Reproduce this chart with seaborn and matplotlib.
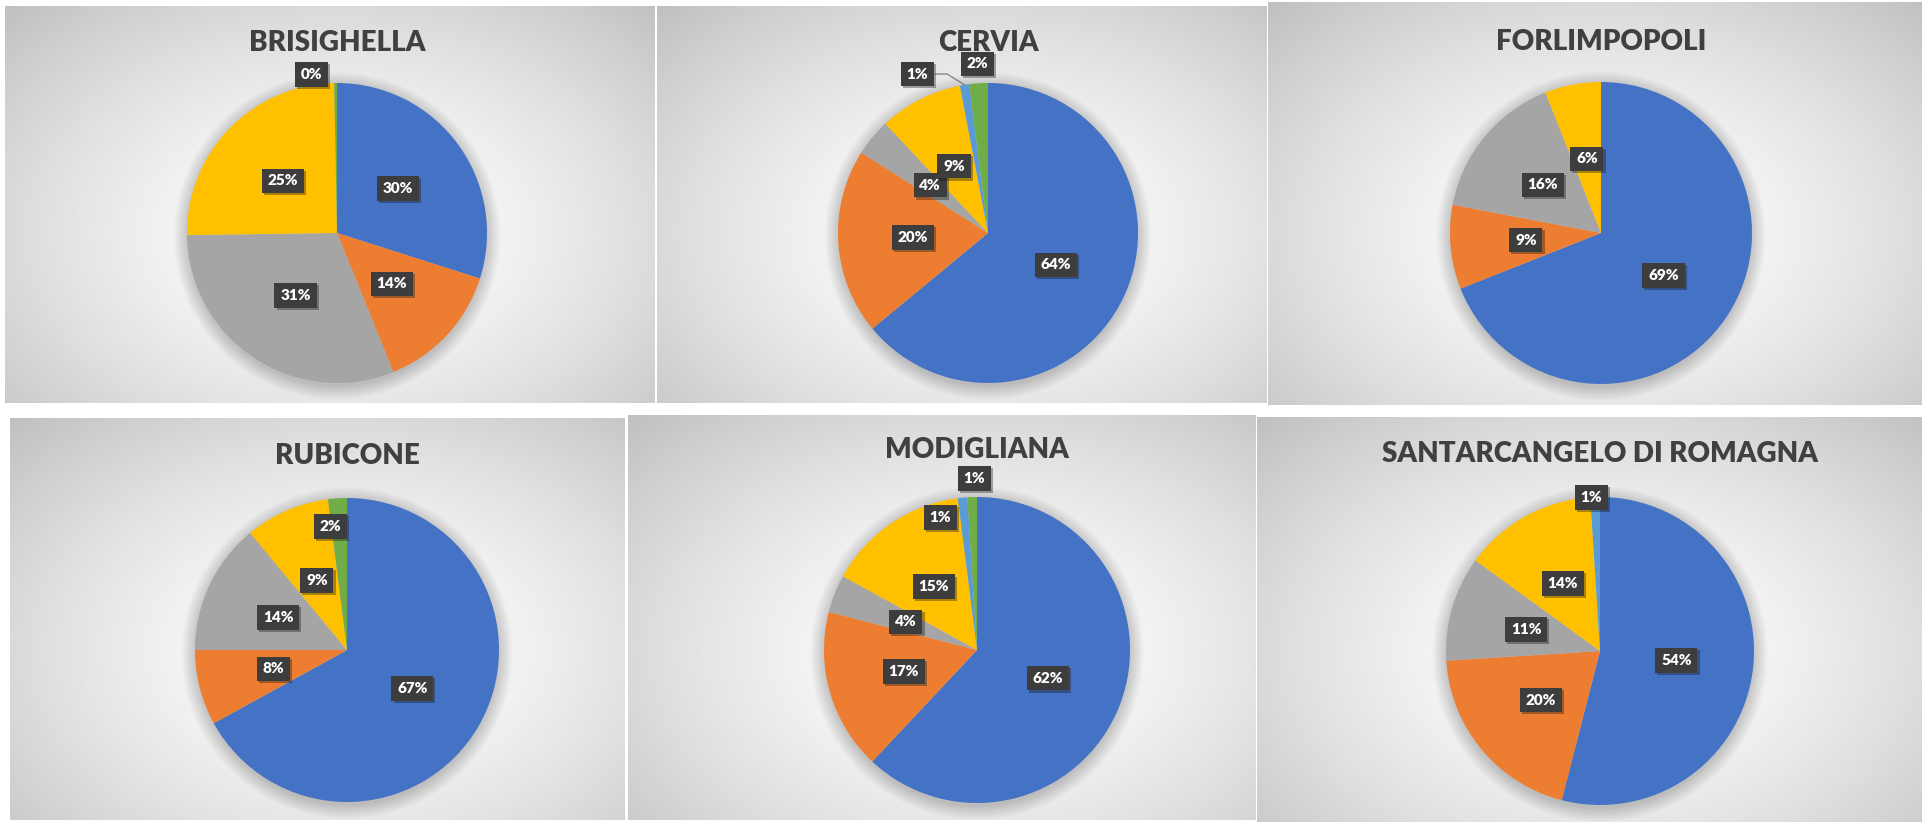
import numpy as np
import matplotlib
matplotlib.use("Agg")
import matplotlib.pyplot as plt
import matplotlib.patheffects as pe
from matplotlib.patches import Circle
import seaborn as sns

# ---- data: share of each category (%) per municipality ----
TITLES = ["BRISIGHELLA", "CERVIA", "FORLIMPOPOLI",
          "RUBICONE", "MODIGLIANA", "SANTARCANGELO DI ROMAGNA"]
brisighella = [30, 14, 31, 25, 0, 0.3]
cervia = [64, 20, 4, 9, 1, 2]
forlimpopoli = [69, 9, 16, 6, 0, 0]
rubicone = [67, 8, 14, 9, 0, 2]
modigliana = [62, 17, 4, 15, 1, 1]
santarcangelo = [54, 20, 11, 14, 1, 0]
SHARES = [brisighella, cervia, forlimpopoli, rubicone, modigliana, santarcangelo]

sns.set_theme(style="white")
plt.rcParams["font.family"] = ["Lato", "DejaVu Sans"]

PALETTE = sns.color_palette(["#4472C4", "#ED7D31", "#A5A5A5",
                             "#FFC000", "#5B9BD5", "#70AD47"])

# ---- layout (pixels on a 1922 x 825 canvas) ----
W, H = 1922, 825
PANELS = [(5, 6, 655, 403), (657, 6, 1267, 403), (1268, 2, 1922, 405),
          (10, 418, 625, 820), (628, 415, 1256, 820), (1257, 417, 1922, 822)]
PIE_CENTERS = [(337, 233), (988, 233), (1601, 233),
               (347, 650), (977, 650), (1600, 651)]
PIE_RADII = [150, 150, 151, 152, 153, 154]
TITLE_Y = [43, 43, 42, 456, 450, 454]
# thin slices: label radius (fraction of pie radius) and angular shift (deg)
SMALL_LABELS = {(0, 5): (1.07, 8.5), (1, 4): (1.16, 15), (1, 5): (1.13, 0),
                (3, 5): (0.82, 4), (4, 4): (0.90, 10), (4, 5): (1.12, -1),
                (5, 4): (1.00, 1.5)}
LEADERS = {(1, 4)}

fig = plt.figure(figsize=(W / 100, H / 100), dpi=100)
fig.patch.set_facecolor("white")


def panel_background(rect, centre):
    l, t, r, b = rect
    ax = fig.add_axes([l / W, 1 - b / H, (r - l) / W, (b - t) / H])
    ny, nx = 240, 360
    ys = np.linspace(t, b, ny)
    xs = np.linspace(l, r, nx)
    xx, yy = np.meshgrid(xs, ys)
    cx, cy = centre
    half_w = max(cx - l, r - cx)
    half_h = max(cy - t, b - cy)
    d = np.sqrt(((xx - cx) / half_w) ** 2 + ((yy - cy) / half_h) ** 2) / np.sqrt(2)
    shade = 1.0 - 0.25 * np.clip(d, 0, 1) ** 1.5
    ax.imshow(shade, cmap="gray", vmin=0, vmax=1, aspect="auto",
              interpolation="bilinear")
    ax.set_axis_off()
    return ax


for i, (title, vals) in enumerate(zip(TITLES, SHARES)):
    cx, cy = PIE_CENTERS[i]
    R = PIE_RADII[i]
    panel_background(PANELS[i], (cx, cy))
    ext = 1.5
    ax = fig.add_axes([(cx - ext * R) / W, 1 - (cy + ext * R) / H,
                       2 * ext * R / W, 2 * ext * R / H])
    ax.set_axis_off()
    ax.patch.set_alpha(0)

    # soft drop shadow around the pie
    for r in np.linspace(1.0, 1.09, 12):
        ax.add_patch(Circle((0.0, -0.02), r, fc="black", ec="none",
                            alpha=0.014, zorder=0))

    idx = [k for k, v in enumerate(vals) if v > 0]
    wedges, _ = ax.pie([vals[k] for k in idx], colors=[PALETTE[k] for k in idx],
                       startangle=90, counterclock=False, radius=1.0,
                       wedgeprops=dict(linewidth=0))
    ax.set_xlim(-ext, ext)
    ax.set_ylim(-ext, ext)
    ax.set_aspect("equal")
    for w in wedges:
        w.set_zorder(2)

    for k, w in zip(idx, wedges):
        mid = 0.5 * (w.theta1 + w.theta2)
        rad, shift = SMALL_LABELS.get((i, k), (0.5, 0.0))
        ang = np.deg2rad(mid + shift)
        x, y = rad * np.cos(ang), rad * np.sin(ang)
        if (i, k) in LEADERS:
            ex, ey = np.cos(np.deg2rad(mid)), np.sin(np.deg2rad(mid))
            ax.plot([x + 0.12, x + 0.2, ex * 1.0], [y, y, ey * 1.0],
                    color="#7f7f7f", lw=0.9, zorder=3)
        t = ax.text(x, y, f"{vals[k]:.0f}%", ha="center", va="center",
                    color="white", fontsize=11, fontweight="heavy", zorder=5,
                    bbox=dict(boxstyle="square,pad=0.38", fc="#3d3d3d",
                              ec="none"))
        t.get_bbox_patch().set_path_effects(
            [pe.SimplePatchShadow(offset=(1.5, -1.5), alpha=0.35), pe.Normal()])

    fig.text(cx / W, 1 - TITLE_Y[i] / H, title, ha="center", va="center",
             fontsize=20, fontweight="heavy", color="#404040")

fig.savefig("out.png", dpi=100, facecolor="white")
